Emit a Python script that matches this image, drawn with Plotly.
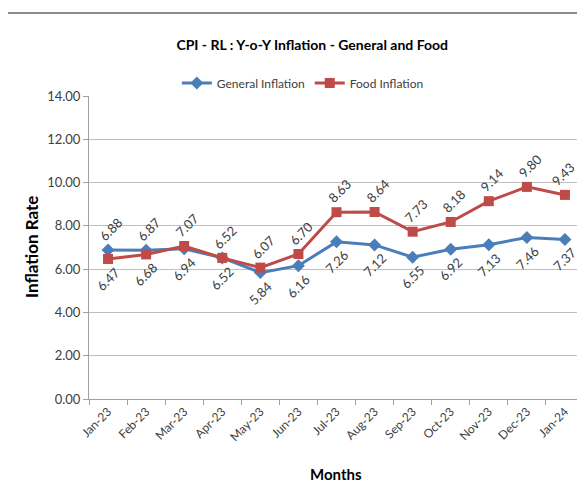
import plotly.graph_objects as go

months = ["Jan-23", "Feb-23", "Mar-23", "Apr-23", "May-23", "Jun-23", "Jul-23",
          "Aug-23", "Sep-23", "Oct-23", "Nov-23", "Dec-23", "Jan-24"]
general = [6.88, 6.87, 6.94, 6.52, 5.84, 6.16, 7.26, 7.12, 6.55, 6.92, 7.13, 7.46, 7.37]
food = [6.47, 6.68, 7.07, 6.52, 6.07, 6.70, 8.63, 8.64, 7.73, 8.18, 9.14, 9.80, 9.43]

FONT = "Lato, Liberation Sans, sans-serif"
BLUE = "#4A7EBB"
RED = "#BE4B48"
TXT = "#404040"

fig = go.Figure()
fig.add_trace(go.Scatter(
    x=months, y=general, name="General Inflation", mode="lines+markers",
    line=dict(color=BLUE, width=3),
    marker=dict(symbol="diamond", size=10, color=BLUE),
))
fig.add_trace(go.Scatter(
    x=months, y=food, name="Food Inflation", mode="lines+markers",
    line=dict(color=RED, width=3),
    marker=dict(symbol="square", size=10, color=RED),
))

# data labels: higher value above the point, lower one below
annotations = []
for i, (m, g, f) in enumerate(zip(months, general, food)):
    g_up = g > f
    last = i == len(months) - 1
    for v, up in ((g, g_up), (f, not g_up)):
        annotations.append(dict(
            x=m, y=v, xref="x", yref="y", text=f"{v:.2f}", showarrow=False,
            textangle=-45, font=dict(family=FONT, size=13, color=TXT),
            xshift=(-2 if last else 3) if up else 0, yshift=21 if up else -20,
        ))

annotations.append(dict(
    x=-0.115, y=0.502, xref="paper", yref="paper", text="<b>Inflation Rate</b>",
    xanchor="center", yanchor="middle", textangle=-90, showarrow=False,
    font=dict(family=FONT, size=17, color="#000000"),
))
annotations.append(dict(
    x=0.499, y=-0.248, xref="paper", yref="paper", text="<b>Months</b>",
    xanchor="center", yanchor="middle", showarrow=False,
    font=dict(family=FONT, size=15, color="#000000"),
))

fig.update_layout(
    width=585, height=495,
    margin=dict(l=81, r=9, t=88, b=104),
    paper_bgcolor="white", plot_bgcolor="white",
    font=dict(family=FONT, size=12, color=TXT),
    title=dict(text="<b>CPI - RL : Y-o-Y Inflation - General and Food</b>",
               x=0.520, xanchor="center", y=0.925, yanchor="middle",
               font=dict(family=FONT, size=14, color="#000000")),
    legend=dict(orientation="h", x=0.432, xanchor="center", y=1.043, yanchor="middle",
                font=dict(family=FONT, size=12, color=TXT), itemwidth=30,
                bgcolor="rgba(0,0,0,0)"),
    annotations=annotations,
    shapes=[dict(type="rect", xref="paper", yref="paper", x0=-0.166, x1=1.2,
                 y0=-0.35, y1=1.274, line=dict(color="#8C8C8C", width=2),
                 layer="below")],
)

fig.update_xaxes(
    type="category", range=[-0.5, 12.5], tickangle=-45, tickson="boundaries",
    ticks="outside", ticklen=5, tickcolor="#A0A0A0", showline=True,
    linecolor="#A0A0A0", showgrid=False,
    tickfont=dict(family=FONT, size=12, color=TXT),
)
fig.update_yaxes(
    range=[0, 14], dtick=2, tickformat=".2f", ticks="outside", ticklen=5,
    tickcolor="#A0A0A0", showline=True, linecolor="#A0A0A0",
    gridcolor="#BFBFBF", gridwidth=1, zeroline=False,
    tickfont=dict(family=FONT, size=13, color=TXT),
)

fig.write_html("out.html")
